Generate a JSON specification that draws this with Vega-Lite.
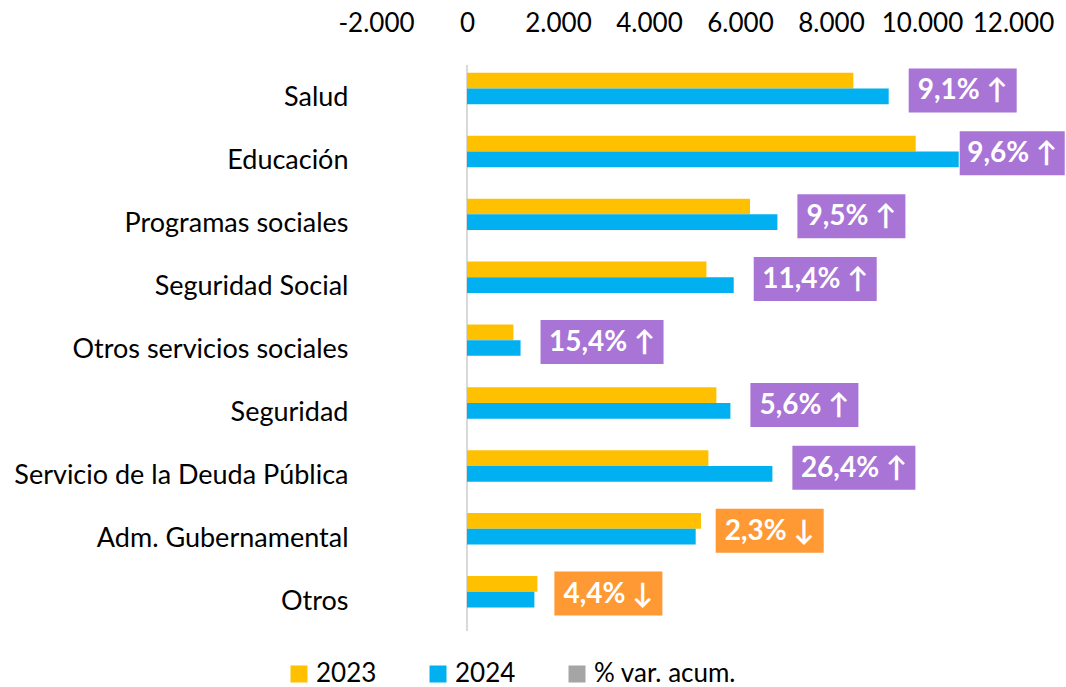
{
  "$schema": "https://vega.github.io/schema/vega-lite/v6.json",
  "autosize": {"type": "none"},
  "padding": {"left": 376, "top": 65, "right": 53, "bottom": 56},
  "width": 637,
  "height": 566,
  "background": "white",
  "config": {
    "view": {"stroke": null},
    "font": "Lato",
    "axis": {"labelFont": "Lato", "labelColor": "#000000", "labelFontSize": 26}
  },
  "datasets": {
    "barras": [
      {"categoria": "Salud", "serie": "2023", "valor": 8492},
      {"categoria": "Salud", "serie": "2024", "valor": 9268},
      {"categoria": "Educación", "serie": "2023", "valor": 9862},
      {"categoria": "Educación", "serie": "2024", "valor": 10807},
      {"categoria": "Programas sociales", "serie": "2023", "valor": 6220},
      {"categoria": "Programas sociales", "serie": "2024", "valor": 6822},
      {"categoria": "Seguridad Social", "serie": "2023", "valor": 5262},
      {"categoria": "Seguridad Social", "serie": "2024", "valor": 5862},
      {"categoria": "Otros servicios sociales", "serie": "2023", "valor": 1020},
      {"categoria": "Otros servicios sociales", "serie": "2024", "valor": 1177},
      {"categoria": "Seguridad", "serie": "2023", "valor": 5481},
      {"categoria": "Seguridad", "serie": "2024", "valor": 5789},
      {"categoria": "Servicio de la Deuda Pública", "serie": "2023", "valor": 5305},
      {"categoria": "Servicio de la Deuda Pública", "serie": "2024", "valor": 6712},
      {"categoria": "Adm. Gubernamental", "serie": "2023", "valor": 5143},
      {"categoria": "Adm. Gubernamental", "serie": "2024", "valor": 5026},
      {"categoria": "Otros", "serie": "2023", "valor": 1547},
      {"categoria": "Otros", "serie": "2024", "valor": 1481}
    ],
    "variacion": [
      {"categoria": "Salud", "valor2024": 9268, "var": 9.1, "etiqueta": "9,1% ↑"},
      {"categoria": "Educación", "valor2024": 10807, "var": 9.6, "etiqueta": "9,6% ↑"},
      {"categoria": "Programas sociales", "valor2024": 6822, "var": 9.5, "etiqueta": "9,5% ↑"},
      {"categoria": "Seguridad Social", "valor2024": 5862, "var": 11.4, "etiqueta": "11,4% ↑"},
      {"categoria": "Otros servicios sociales", "valor2024": 1177, "var": 15.4, "etiqueta": "15,4% ↑"},
      {"categoria": "Seguridad", "valor2024": 5789, "var": 5.6, "etiqueta": "5,6% ↑"},
      {"categoria": "Servicio de la Deuda Pública", "valor2024": 6712, "var": 26.4, "etiqueta": "26,4% ↑"},
      {"categoria": "Adm. Gubernamental", "valor2024": 5026, "var": -2.3, "etiqueta": "2,3% ↓"},
      {"categoria": "Otros", "valor2024": 1481, "var": -4.4, "etiqueta": "4,4% ↓"}
    ]
  },
  "encoding": {
    "y": {
      "field": "categoria",
      "type": "nominal",
      "sort": ["Salud", "Educación", "Programas sociales", "Seguridad Social", "Otros servicios sociales", "Seguridad", "Servicio de la Deuda Pública", "Adm. Gubernamental", "Otros"],
      "scale": {"paddingInner": 0.25, "paddingOuter": 0.125},
      "axis": {"title": null, "ticks": false, "domain": false, "labelPadding": 28, "labelLimit": 400, "labelFontSize": 27, "labelOffset": 2}
    }
  },
  "layer": [
    {
      "data": {"name": "barras"},
      "mark": {"type": "rule", "color": "#d9d9d9", "strokeWidth": 2},
      "encoding": {"x": {"datum": 0, "type": "quantitative"}, "y": null}
    },
    {
      "data": {"name": "barras"},
      "mark": {"type": "bar"},
      "encoding": {
        "x": {
          "field": "valor",
          "type": "quantitative",
          "scale": {"domain": [-2000, 12000], "nice": false, "zero": false},
          "axis": {
            "orient": "top",
            "title": null,
            "values": [-2000, 0, 2000, 4000, 6000, 8000, 10000, 12000],
            "labelExpr": "replace(replace(format(datum.value, ','), ',', '.'), '−', '-')",
            "ticks": false,
            "domain": false,
            "grid": false,
            "labelPadding": 29,
            "labelFlush": false,
            "labelOverlap": false
          }
        },
        "yOffset": {
          "field": "serie",
          "type": "nominal",
          "scale": {"domain": ["2023", "2024", "% var. acum."], "paddingInner": 0, "paddingOuter": 0}
        },
        "color": {
          "field": "serie",
          "type": "nominal",
          "scale": {"domain": ["2023", "2024", "% var. acum."], "range": ["#FFC000", "#00B0F0", "#A5A5A5"]},
          "legend": {
            "title": null,
            "orient": "none",
            "direction": "horizontal",
            "legendX": -90,
            "legendY": 596,
            "padding": 0,
            "symbolType": "square",
            "symbolSize": 289,
            "symbolStrokeWidth": 0,
            "labelFont": "Lato",
            "labelFontSize": 26,
            "labelColor": "#000000",
            "labelOffset": 4,
            "columnPadding": 48
          }
        }
      }
    },
    {
      "data": {"name": "variacion"},
      "transform": [{"filter": "length(datum.etiqueta) <= 6 && datum.valor2024 < 10000"}],
      "layer": [
        {
          "mark": {"type": "bar", "height": 44, "yOffset": -6, "xOffset": 20, "x2Offset": 128},
          "encoding": {
            "x": {"field": "valor2024", "type": "quantitative"},
            "x2": {"field": "valor2024"},
            "color": {"condition": {"test": "datum.var > 0", "value": "#A874D6"}, "value": "#FF9933"}
          }
        },
        {
          "mark": {"type": "text", "font": "Lato", "fontWeight": "bold", "fontSize": 28, "color": "white", "align": "center", "baseline": "middle", "xOffset": 74, "yOffset": -5},
          "encoding": {
            "x": {"field": "valor2024", "type": "quantitative"},
            "text": {"field": "etiqueta"}
          }
        }
      ]
    },
    {
      "data": {"name": "variacion"},
      "transform": [{"filter": "length(datum.etiqueta) > 6"}],
      "layer": [
        {
          "mark": {"type": "bar", "height": 44, "yOffset": -6, "xOffset": 20, "x2Offset": 143},
          "encoding": {
            "x": {"field": "valor2024", "type": "quantitative"},
            "x2": {"field": "valor2024"},
            "color": {"condition": {"test": "datum.var > 0", "value": "#A874D6"}, "value": "#FF9933"}
          }
        },
        {
          "mark": {"type": "text", "font": "Lato", "fontWeight": "bold", "fontSize": 28, "color": "white", "align": "center", "baseline": "middle", "xOffset": 81.5, "yOffset": -5},
          "encoding": {
            "x": {"field": "valor2024", "type": "quantitative"},
            "text": {"field": "etiqueta"}
          }
        }
      ]
    },
    {
      "data": {"name": "variacion"},
      "transform": [{"filter": "length(datum.etiqueta) <= 6 && datum.valor2024 >= 10000"}],
      "layer": [
        {
          "mark": {"type": "bar", "height": 44, "yOffset": -6, "xOffset": 1, "x2Offset": 106},
          "encoding": {
            "x": {"field": "valor2024", "type": "quantitative"},
            "x2": {"field": "valor2024"},
            "color": {"condition": {"test": "datum.var > 0", "value": "#A874D6"}, "value": "#FF9933"}
          }
        },
        {
          "mark": {"type": "text", "font": "Lato", "fontWeight": "bold", "fontSize": 28, "color": "white", "align": "center", "baseline": "middle", "xOffset": 53.5, "yOffset": -5},
          "encoding": {
            "x": {"field": "valor2024", "type": "quantitative"},
            "text": {"field": "etiqueta"}
          }
        }
      ]
    }
  ]
}
